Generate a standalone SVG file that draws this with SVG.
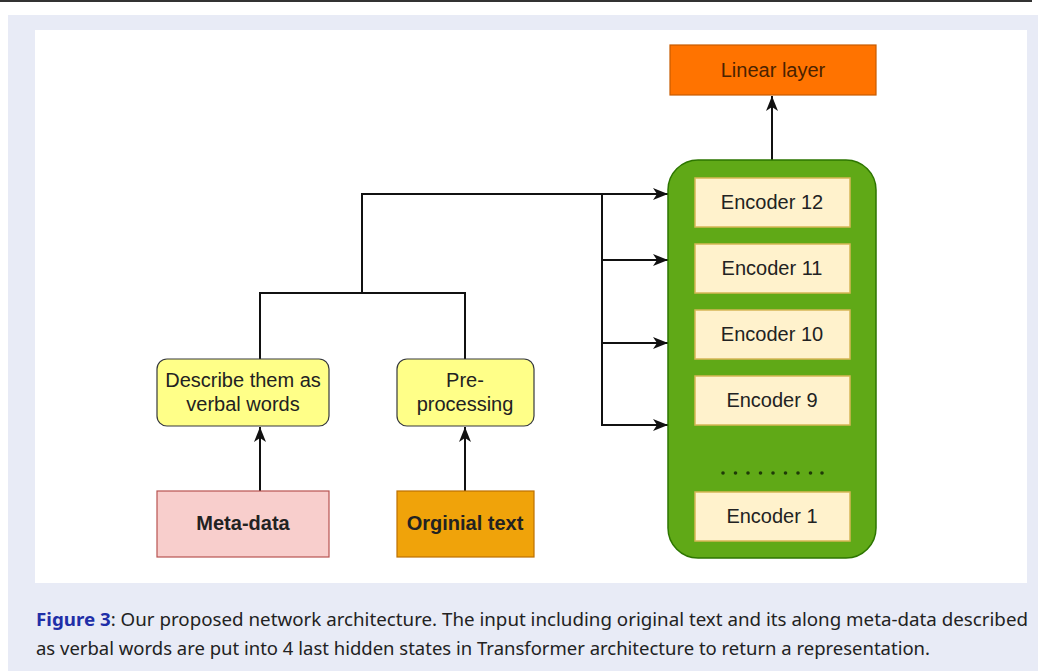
<svg xmlns="http://www.w3.org/2000/svg" width="1038" height="671" viewBox="0 0 1038 671">
<style>
.t{font-family:"Liberation Sans",Arial,sans-serif;font-size:20px;fill:#222;text-anchor:middle}
.b{font-weight:bold}
.enc rect{fill:#FFF2CC;stroke:#D6B656;stroke-width:1.5}
.ln{fill:none;stroke:#111;stroke-width:2}
.cap{font-family:"Noto Sans","Open Sans",sans-serif;font-size:18px;fill:#222}
</style>
<defs>
<marker id="ah" viewBox="0 0 15 12" refX="15" refY="6" markerWidth="15" markerHeight="12" markerUnits="userSpaceOnUse" orient="auto">
<path d="M0,0 L15,6 L0,12 L4,6 Z" fill="#111"/>
</marker>
</defs>
<rect x="0" y="0" width="1038" height="671" fill="#fff"/>
<rect x="0" y="0" width="1032" height="2" fill="#333"/>
<rect x="8" y="15" width="1030" height="656" fill="#E8EBF6"/>
<rect x="35" y="30" width="992" height="553" fill="#fff"/>

<g id="connectors">
<path class="ln" d="M260,491 V427" marker-end="url(#ah)"/>
<path class="ln" d="M465,491 V427" marker-end="url(#ah)"/>
<path class="ln" d="M260,359 V293 H465 V359"/>
<path class="ln" d="M362,293 V194 H668" marker-end="url(#ah)"/>
<path class="ln" d="M602,194 V425 H668" marker-end="url(#ah)"/>
<path class="ln" d="M602,260 H668" marker-end="url(#ah)"/>
<path class="ln" d="M602,343 H668" marker-end="url(#ah)"/>
<path class="ln" d="M772,160 V96" marker-end="url(#ah)"/>
</g>

<g id="linear-layer">
<rect x="670" y="45" width="206" height="50" fill="#FF7300" stroke="#C75B00" stroke-width="1.2"/>
<text class="t" x="773" y="77" style="fill:#4a2200">Linear layer</text>
</g>

<g id="transformer">
<rect x="668" y="160" width="208" height="398" rx="30" fill="#60A917" stroke="#2D7600" stroke-width="1.5"/>
</g>
<g id="encoder-12" class="enc"><rect x="695" y="178" width="155" height="49"/><text class="t" x="772" y="209">Encoder 12</text></g>
<g id="encoder-11" class="enc"><rect x="695" y="244" width="155" height="49"/><text class="t" x="772" y="275">Encoder 11</text></g>
<g id="encoder-10" class="enc"><rect x="695" y="310" width="155" height="49"/><text class="t" x="772" y="341">Encoder 10</text></g>
<g id="encoder-9" class="enc"><rect x="695" y="376" width="155" height="49"/><text class="t" x="772" y="407">Encoder 9</text></g>
<g id="dots" fill="#1f3a08">
<circle cx="723" cy="473" r="1.8"/><circle cx="735.5" cy="473" r="1.8"/><circle cx="748" cy="473" r="1.8"/>
<circle cx="760.5" cy="473" r="1.8"/><circle cx="773" cy="473" r="1.8"/><circle cx="785.5" cy="473" r="1.8"/>
<circle cx="798" cy="473" r="1.8"/><circle cx="810.5" cy="473" r="1.8"/><circle cx="822" cy="473" r="1.8"/>
</g>
<g id="encoder-1" class="enc"><rect x="695" y="492" width="155" height="49"/><text class="t" x="772" y="523">Encoder 1</text></g>

<g id="describe">
<rect x="157" y="359" width="172" height="67" rx="10" fill="#FFFF88" stroke="#36393d" stroke-width="1.2"/>
<text class="t" x="243" y="387">Describe them as</text>
<text class="t" x="243" y="411">verbal words</text>
</g>
<g id="preprocessing">
<rect x="397" y="359" width="137" height="67" rx="10" fill="#FFFF88" stroke="#36393d" stroke-width="1.2"/>
<text class="t" x="465" y="387">Pre-</text>
<text class="t" x="465" y="411">processing</text>
</g>
<g id="meta-data">
<rect x="157" y="491" width="172" height="66" fill="#F8CECC" stroke="#B85450" stroke-width="1.2"/>
<text class="t b" x="243" y="530">Meta-data</text>
</g>
<g id="original-text">
<rect x="397" y="491" width="137" height="66" fill="#F0A30A" stroke="#BD7000" stroke-width="1.2"/>
<text class="t b" x="465" y="530">Orginial text</text>
</g>

<g id="caption">
<text class="cap" x="36" y="626" textLength="992" lengthAdjust="spacingAndGlyphs"><tspan font-weight="bold" fill="#1F2FA8">Figure 3</tspan>: Our proposed network architecture. The input including original text and its along meta-data described</text>
<text class="cap" x="36" y="655" textLength="894" lengthAdjust="spacingAndGlyphs">as verbal words are put into 4 last hidden states in Transformer architecture to return a representation.</text>
</g>
</svg>
